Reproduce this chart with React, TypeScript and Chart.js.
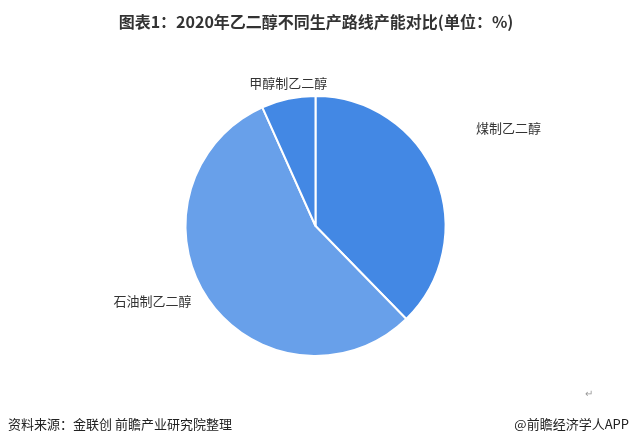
import React, { useEffect, useRef } from "react";
import { Chart, registerables } from "chart.js";

Chart.register(...registerables);

const categories = ["煤制乙二醇", "石油制乙二醇", "甲醇制乙二醇"];
const values = [37.7, 55.6, 6.7];
const colors = ["#4388E4", "#68A0EA", "#4388E4"];
const titleText = "图表1：2020年乙二醇不同生产路线产能对比(单位：%)";
const sourceText = "资料来源：金联创 前瞻产业研究院整理";
const brandText = "@前瞻经济学人APP";

const FONT = '"Noto Sans CJK SC", "Noto Sans", sans-serif';

const textPlugin = {
  id: "textPlugin",
  afterDraw(chart: any) {
    const ctx = chart.ctx;
    ctx.save();
    // title
    ctx.fillStyle = "#333333";
    ctx.font = `bold 16px ${FONT}`;
    ctx.textAlign = "center";
    ctx.textBaseline = "middle";
    ctx.fillText(titleText, 316, 22);
    // footer
    ctx.font = `13px ${FONT}`;
    ctx.fillStyle = "#222222";
    ctx.textAlign = "left";
    ctx.fillText(sourceText, 8, 424);
    ctx.textAlign = "right";
    ctx.fillText(brandText, 629, 424);
    ctx.fillStyle = "#999999";
    ctx.font = `10px ${FONT}`;
    ctx.textAlign = "center";
    ctx.fillText("↵", 589, 393);
    // slice labels
    const meta = chart.getDatasetMeta(0);
    ctx.font = `13px ${FONT}`;
    ctx.fillStyle = "#333333";
    meta.data.forEach((arc: any, i: number) => {
      const mid = (arc.startAngle + arc.endAngle) / 2;
      const r = arc.outerRadius;
      const cx = arc.x;
      const cy = arc.y;
      let x: number;
      let y: number;
      if (i === 0) {
        x = cx + Math.cos(mid) * r + 40;
        y = cy - r * 0.75;
        ctx.textAlign = "left";
      } else if (i === 1) {
        x = cx - r + 6;
        y = cy + r * 0.58;
        ctx.textAlign = "right";
      } else {
        x = cx + Math.cos(mid) * r;
        y = cy - r - 13;
        ctx.textAlign = "center";
      }
      ctx.fillText(categories[i], x, y);
    });
    ctx.restore();
  },
};

export default function App() {
  const ref = useRef<HTMLCanvasElement | null>(null);
  useEffect(() => {
    document.body.style.margin = "0";
    const canvas = ref.current!;
    const chart = new Chart(canvas, {
      type: "pie",
      data: {
        labels: categories,
        datasets: [
          {
            data: values,
            backgroundColor: colors,
            borderColor: "#ffffff",
            borderWidth: 2,
          },
        ],
      },
      options: {
        responsive: false,
        animation: false,
        radius: 130,
        layout: { padding: { top: 96, bottom: 89, left: 1, right: 0 } },
        plugins: {
          legend: { display: false },
          tooltip: { enabled: false },
          title: { display: false },
        },
      },
      plugins: [textPlugin],
    } as any);
    return () => chart.destroy();
  }, []);
  return (
    <div style={{ width: 630, height: 445, background: "#fff" }}>
      <canvas ref={ref} width={630} height={445} style={{ display: "block" }} />
    </div>
  );
}
